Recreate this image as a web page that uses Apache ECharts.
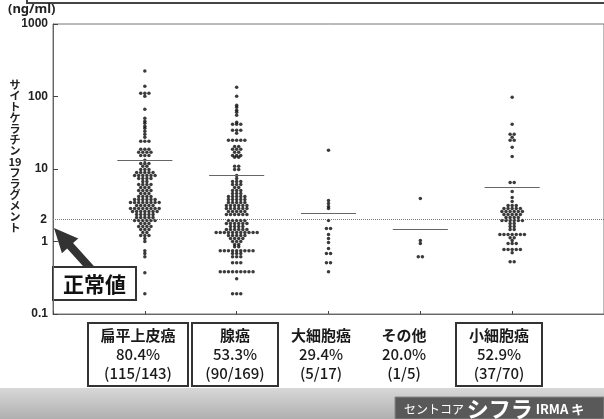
<!DOCTYPE html>
<html>
<head>
<meta charset="utf-8">
<script src="https://cdn.jsdelivr.net/npm/echarts@6/dist/echarts.min.js"></script>
<style>
  html, body { margin: 0; padding: 0; background: #fff; }
  #chart { width: 604px; height: 419px; }
</style>
</head>
<body>
<div id="chart"></div>
<script>
// --- data ---
var categories = ["扁平上皮癌", "腺癌", "大細胞癌", "その他", "小細胞癌"];
var rates = ["80.4%", "53.3%", "29.4%", "20.0%", "52.9%"];
var ratios = ["(115/143)", "(90/169)", "(5/17)", "(1/5)", "(37/70)"];
var boxed = [true, true, false, false, true];
var cutoff = 2;
var centerLines = [13.2, 8.15, 2.43, 1.46, 5.57];

// rows of the dot plot: [value (ng/ml), dots side by side]
var squamous = [
  [224, 1], [139, 1], [111, 3], [101, 1], [66.7, 1],
  [50.1, 1], [45.5, 1], [42.7, 1], [38.8, 1], [36.4, 1], [33.1, 1], [30.1, 1], [27.4, 1],
  [24.1, 3], [18.7, 3], [17.0, 4], [15.4, 3], [13.2, 1],
  [11.9, 3], [10.9, 2], [9.87, 3], [8.97, 5], [8.15, 6], [7.41, 4],
  [6.74, 2], [6.12, 4], [5.57, 3], [5.06, 4], [4.60, 3], [4.18, 4], [3.80, 6],
  [3.45, 8], [3.14, 5], [2.85, 8], [2.59, 7], [2.36, 5], [2.14, 5],
  [1.95, 6], [1.77, 3], [1.61, 4], [1.46, 3], [1.33, 2], [1.21, 3], [1.10, 1], [1.00, 1],
  [0.748, 1], [0.681, 1], [0.618, 1], [0.372, 1], [0.190, 1]
];
var adeno = [
  [134.5, 1], [101, 1], [75.8, 1], [71.1, 1], [64.7, 1], [60.7, 1], [55.1, 1],
  [44.2, 1], [41.4, 3], [34.2, 3], [31.1, 1], [24.9, 5],
  [20.5, 2], [18.7, 3], [17.0, 2], [15.4, 3], [14.5, 2], [10.9, 2], [9.87, 2],
  [8.15, 1], [7.41, 1], [6.74, 3], [6.12, 3], [5.57, 2],
  [5.06, 3], [4.60, 3], [4.18, 5], [3.80, 5],
  [3.45, 5], [3.14, 6], [2.85, 6], [2.59, 5], [2.36, 6],
  [1.95, 5], [1.77, 6], [1.61, 4], [1.46, 6], [1.33, 11], [1.21, 5], [1.10, 4],
  [1.00, 3], [0.906, 2], [0.849, 2], [0.748, 9], [0.681, 3], [0.618, 3],
  [0.511, 3], [0.384, 9], [0.307, 1], [0.190, 3]
];
var largeCell = [
  [18.1, 1], [3.68, 1], [3.34, 1], [3.04, 1], [2.85, 1],
  [1.95, 1], [1.51, 2], [1.25, 1], [1.10, 1], [0.966, 1],
  [0.798, 1], [0.681, 2], [0.511, 2], [0.384, 1]
];
var others = [
  [3.92, 1], [1.03, 1], [0.935, 1], [0.618, 2]
];
var smallCell = [
  [97.8, 1], [41.4, 1], [30.1, 2], [27.4, 1], [24.9, 2], [19.9, 1], [14.9, 1],
  [6.53, 2], [4.90, 1], [4.05, 1], [3.56, 1],
  [3.14, 3], [2.85, 5], [2.59, 6], [2.36, 5], [2.14, 4],
  [1.95, 6], [1.77, 2], [1.61, 2], [1.46, 2], [1.25, 7], [1.13, 2], [1.03, 1],
  [0.935, 3], [0.773, 5], [0.702, 1], [0.527, 2]
];
var groups = [squamous, adeno, largeCell, others, smallCell];

// --- layout ---
var W = 604, H = 419;
var gridLeft = 53, gridTop = 24, gridBottom = 105;
var unitPx = (W - gridLeft) / 6;
var dotPitch = 4.1 / unitPx;
var labelCenters = [138, 235, 321, 404, 499];
var boxWidths = [100, 86, 0, 0, 86];

function swarm(rows, pos) {
  var pts = [];
  rows.forEach(function (r) {
    for (var j = 0; j < r[1]; j++) {
      pts.push([pos + (j - (r[1] - 1) / 2) * dotPitch, r[0]]);
    }
  });
  return pts;
}

var series = groups.map(function (rows, i) {
  var pos = i + 1;
  return {
    type: "scatter",
    symbol: "circle",
    symbolSize: 3.5,
    itemStyle: { color: "#0a0a0a" },
    data: swarm(rows, pos),
    markLine: {
      silent: true,
      symbol: "none",
      animation: false,
      label: { show: false },
      lineStyle: { color: "#666", width: 1, type: "solid" },
      data: [[{ coord: [pos - 0.3, centerLines[i]] }, { coord: [pos + 0.3, centerLines[i]] }]]
    }
  };
});
series.push({
  type: "scatter",
  data: [],
  markLine: {
    silent: true,
    symbol: "none",
    animation: false,
    lineStyle: { color: "#777", width: 1, type: "dotted" },
    label: {
      show: true, position: "start", formatter: String(cutoff), distance: 6,
      color: "#222", fontSize: 12, fontWeight: "bold", fontFamily: "Arial, Liberation Sans"
    },
    data: [{ yAxis: cutoff }]
  }
});

// arrow pointing at the cutoff line
function arrowPoints(tip, tail, headLen, headHalf, shaftHalf) {
  var dx = tip[0] - tail[0], dy = tip[1] - tail[1];
  var len = Math.sqrt(dx * dx + dy * dy);
  var ux = dx / len, uy = dy / len, nx = -uy, ny = ux;
  var bx = tip[0] - ux * headLen, by = tip[1] - uy * headLen;
  return [
    tip,
    [bx + nx * headHalf, by + ny * headHalf],
    [bx + nx * shaftHalf, by + ny * shaftHalf],
    [tail[0] + nx * shaftHalf, tail[1] + ny * shaftHalf],
    [tail[0] - nx * shaftHalf, tail[1] - ny * shaftHalf],
    [bx - nx * shaftHalf, by - ny * shaftHalf],
    [bx - nx * headHalf, by - ny * headHalf]
  ];
}

var graphics = [
  { type: "polyline", shape: { points: [[27, 0], [27, 3], [W, 3]] }, style: { stroke: "#444", lineWidth: 2, fill: null } },
  {
    type: "text", left: 8, top: 3,
    style: { text: "(ng/ml)", font: "bold 13px 'Noto Sans', Arial", fill: "#222" }
  },
  {
    type: "text", x: 15, y: 79,
    style: {
      text: ["サ", "イ", "ト", "ケ", "ラ", "チ", "ン", "19", "フ", "ラ", "グ", "メ", "ン", "ト"].join("\n"),
      font: "bold 11px 'Noto Sans CJK JP'", lineHeight: 11, align: "center", fill: "#222"
    }
  },
  {
    type: "polygon",
    shape: { points: arrowPoints([54, 228], [92, 270], 24, 11, 4) },
    style: { fill: "#333" }
  },
  {
    type: "rect", shape: { x: 53, y: 267, width: 83, height: 33 },
    style: { fill: "#fff", stroke: "#333", lineWidth: 2 }
  },
  {
    type: "text", x: 94.5, y: 284,
    style: { text: "正常値", font: "bold 21px 'Noto Sans CJK JP'", fill: "#111", align: "center", verticalAlign: "middle" }
  },
  {
    type: "rect", shape: { x: 0, y: 388, width: W, height: H - 388 },
    style: {
      fill: new echarts.graphic.LinearGradient(0, 0, 0, 1, [
        { offset: 0, color: "#d8d8d8" }, { offset: 1, color: "#b0b0b0" }
      ])
    }
  },
  {
    type: "rect", shape: { x: 395, y: 397, width: W - 395, height: H - 397 },
    style: { fill: "#595959", stroke: "#888", lineWidth: 1 }
  },
  {
    type: "text", x: 404, y: 409,
    style: {
      text: "{s|セントコア }{b|シフラ}{m| IRMA キ}",
      verticalAlign: "middle",
      rich: {
        s: { font: "12px 'Noto Sans CJK JP'", fill: "#fff" },
        b: { font: "bold 22px 'Noto Sans CJK JP'", fill: "#fff" },
        m: { font: "bold 13px 'Noto Sans CJK JP'", fill: "#fff" }
      }
    }
  }
];

categories.forEach(function (c, i) {
  var cx = labelCenters[i];
  if (boxed[i]) {
    graphics.push({
      type: "rect",
      shape: { x: cx - boxWidths[i] / 2, y: 323, width: boxWidths[i], height: 63 },
      style: { fill: null, stroke: "#333", lineWidth: 2 }
    });
  }
  graphics.push({
    type: "text", x: cx, y: 326,
    style: {
      text: "{a|" + c + "}\n{n|" + rates[i] + "}\n{n|" + ratios[i] + "}",
      align: "center",
      rich: {
        a: { font: "bold 15px 'Noto Sans CJK JP'", fill: "#1a1a1a", lineHeight: 19, align: "center" },
        n: { font: "500 15px 'Noto Sans CJK JP'", fill: "#1a1a1a", lineHeight: 19, align: "center" }
      }
    }
  });
});

var chart = echarts.init(document.getElementById("chart"), null, { renderer: "canvas" });
chart.setOption({
  animation: false,
  backgroundColor: "#fff",
  grid: {
    left: gridLeft, top: gridTop, right: -2, bottom: gridBottom,
    show: true, borderColor: "#777", borderWidth: 1
  },
  xAxis: {
    type: "value", min: 0, max: 6, interval: 1,
    axisLine: { show: true, lineStyle: { color: "#666", width: 1 } },
    axisTick: { show: true, inside: true, length: 3, lineStyle: { color: "#444" } },
    axisLabel: { show: false },
    splitLine: { show: false }
  },
  yAxis: {
    type: "log", logBase: 10, min: 0.1, max: 1000,
    axisLine: { show: true, lineStyle: { color: "#666", width: 1 } },
    axisTick: { show: true, inside: true, length: 5, lineStyle: { color: "#444" } },
    axisLabel: {
      color: "#222", fontSize: 12, fontWeight: "bold", margin: 5,
      fontFamily: "Arial, Liberation Sans",
      formatter: function (v) { return String(v); }
    },
    splitLine: { show: false },
    minorTick: { show: false }
  },
  series: series,
  graphic: graphics
});
</script>
</body>
</html>
